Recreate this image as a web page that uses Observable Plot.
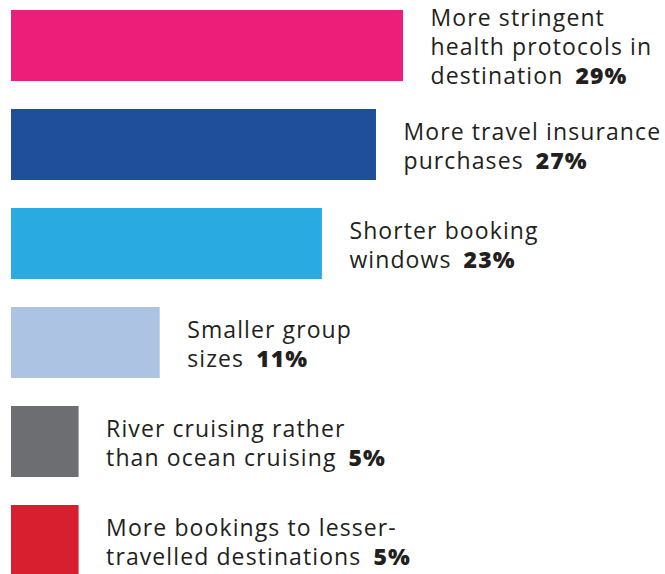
<!DOCTYPE html>
<html>
<head>
<meta charset="utf-8">
<script src="https://cdn.jsdelivr.net/npm/d3@7"></script>
<script src="https://cdn.jsdelivr.net/npm/@observablehq/plot@0.6"></script>
<style>
  html, body { margin: 0; padding: 0; background: #fff; overflow: hidden; }
  #chart svg { display: block; }
  #chart g.lbl text { letter-spacing: 1.1px; }
</style>
</head>
<body>
<div id="chart"></div>
<script>
const categories = [
  "More stringent\nhealth protocols in\ndestination",
  "More travel insurance\npurchases",
  "Shorter booking\nwindows",
  "Smaller group\nsizes",
  "River cruising rather\nthan ocean cruising",
  "More bookings to lesser-\ntravelled destinations"
];
const values = [29, 27, 23, 11, 5, 5];
const colors = ["#EC1E79", "#1F4E9B", "#29AAE1", "#ADC3E4", "#6D6E71", "#D71F30"];

const data = categories.map((c, i) => ({label: c, value: values[i], color: colors[i], pct: values[i] + "%"}));

const chart = Plot.plot({
  width: 665,
  height: 574,
  marginLeft: 11,
  marginRight: 0,
  marginTop: 0,
  marginBottom: 0,
  x: {domain: [0, 48.38], axis: null},
  y: {domain: categories, range: [-4, 590], paddingInner: 0.283, paddingOuter: 0.1415, axis: null},
  style: {fontFamily: "'Open Sans', sans-serif", background: "#fff"},
  marks: [
    Plot.barX(data, {x: "value", y: "label", fill: "color"}),
    Plot.text(data, {
      x: "value", y: "label", text: "label",
      textAnchor: "start", dx: 27, fontSize: 23, lineHeight: 1.26,
      fill: "#231F20", className: "lbl"
    })
  ]
});
document.getElementById("chart").appendChild(chart);

// append bold percentage to the last line of each label
const texts = chart.querySelectorAll("g.lbl text");
texts.forEach((t, i) => {
  const spans = t.querySelectorAll("tspan");
  const last = spans.length ? spans[spans.length - 1] : t;
  const b = document.createElementNS("http://www.w3.org/2000/svg", "tspan");
  b.setAttribute("dx", "12");
  b.setAttribute("font-weight", "800");
  b.textContent = data[i].pct;
  last.appendChild(b);
});
</script>
</body>
</html>
